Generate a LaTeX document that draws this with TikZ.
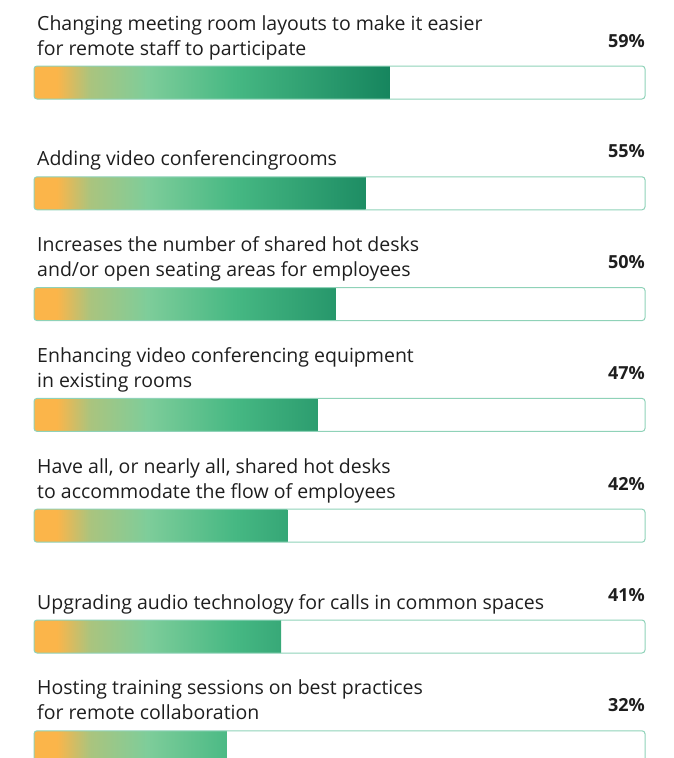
\documentclass[tikz,border=0pt]{standalone}
\usepackage{fontspec}
\setmainfont{Open Sans}
\usepackage{xcolor}
\definecolor{barorange}{RGB}{251,181,74}
\definecolor{baryellow}{RGB}{170,196,126}
\definecolor{barlight}{RGB}{126,205,154}
\definecolor{barmid}{RGB}{70,184,131}
\definecolor{bardark}{RGB}{22,133,94}
\definecolor{barline}{RGB}{143,210,184}
\definecolor{labeltext}{RGB}{30,30,30}
\pgfdeclarehorizontalshading{barshade}{100bp}{color(0bp)=(barorange); color(28.2bp)=(barorange); color(32.9bp)=(baryellow); color(40.9bp)=(barlight); color(53.2bp)=(barmid); color(75bp)=(bardark); color(100bp)=(bardark)}
\tikzset{
	answer/.style={anchor=base west, inner sep=0pt, align=left, text=labeltext, font=\fontsize{19.5}{25}\selectfont},
	share/.style={anchor=base east, inner sep=0pt, text=labeltext, font=\fontsize{18}{22}\selectfont\bfseries},
	barbox/.style={draw=barline, line width=1pt, rounded corners=3pt}
}

\begin{document}
\begin{tikzpicture}[x=1pt, y=-1pt]
			\useasboundingbox (0,0) rectangle (673,758);
			\clip (0,0) rectangle (673,758);
			%% one row per answer: number/percent/label
			\foreach \i/\pct/\txt in {
				1/59/{Changing meeting room layouts to make it easier\\for remote staff to participate},
				2/55/{Adding video conferencingrooms},
				3/50/{Increases the number of shared hot desks\\and/or open seating areas for employees},
				4/47/{Enhancing video conferencing equipment\\in existing rooms},
				5/42/{Have all, or nearly all, shared hot desks\\to accommodate the flow of employees},
				6/41/{Upgrading audio technology for calls in common spaces},
				7/32/{Hosting training sessions on best practices\\for remote collaboration}} {
				\pgfmathsetmacro{\bartop}{66+110.8*(\i-1)}
				\pgfmathsetmacro{\barend}{34+6.03*\pct}
				\node [answer] (label\i) at (37, \bartop-11) {\txt};
				\node [share] (pct\i) at (645, \bartop-19) {\pct\%};
				%%
				\begin{scope}
					\clip [rounded corners=3pt] (34,\bartop) rectangle (645,\bartop+33);
					\clip (34,\bartop) rectangle (\barend,\bartop+33);
					\shade [shading=barshade] (34,\bartop) rectangle (390,\bartop+33);
				\end{scope}
				\draw [barbox] (34,\bartop) rectangle (645,\bartop+33);
			}
\end{tikzpicture}
\end{document}
